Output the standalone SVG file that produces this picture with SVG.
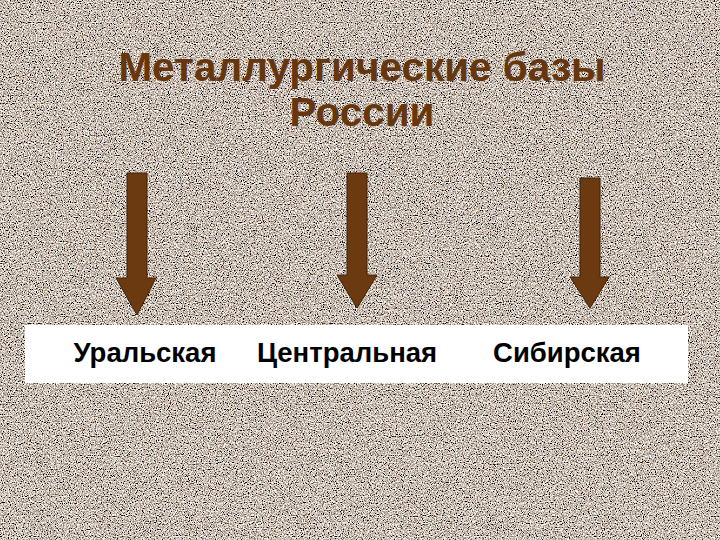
<svg xmlns="http://www.w3.org/2000/svg" width="720" height="540" viewBox="0 0 720 540">
  <defs>
    <filter id="grain" x="0" y="0" width="100%" height="100%" filterUnits="userSpaceOnUse">
      <feTurbulence type="fractalNoise" baseFrequency="0.85" numOctaves="2" seed="7" result="n"/>
      <feColorMatrix in="n" type="matrix" values="2.6 0 0 0 -0.72  2.45 0 0 0 -0.71  2.3 0 0 0 -0.69  0 0 0 0 1"/>
    </filter>
    <style>
      .title { font-family: "Liberation Sans", Arial, sans-serif; font-weight: bold; font-size: 40.5px; fill: #66360f; text-anchor: middle; }
      .label { font-family: "Liberation Sans", Arial, sans-serif; font-weight: bold; font-size: 27.5px; fill: #000; text-anchor: middle; }
      .arrow { fill: #6b3a10; stroke: #3e2208; stroke-width: 1; }
    </style>
  </defs>
  <rect x="0" y="0" width="720" height="540" fill="#928476"/>
  <rect x="0" y="0" width="720" height="540" filter="url(#grain)"/>

  <g id="title">
    <text class="title" x="362" y="81">Металлургические базы</text>
    <text class="title" x="362" y="126">России</text>
  </g>

  <g id="connectors">
    <path class="arrow" d="M127,173 H147 V278 H156 L137,315 L116,278 H127 Z"/>
    <path class="arrow" d="M347,173 H367 V275 H377 L357,308 L337,275 H347 Z"/>
    <path class="arrow" d="M580,178 H600 V277 H609 L590,308 L570,277 H580 Z"/>
  </g>

  <g id="box">
    <rect x="25" y="325" width="663" height="58" fill="#ffffff"/>
  </g>
  <g id="node-ural">
    <text class="label" x="145" y="362">Уральская</text>
  </g>
  <g id="node-central">
    <text class="label" x="347" y="362">Центральная</text>
  </g>
  <g id="node-siberian">
    <text class="label" x="567" y="362">Сибирская</text>
  </g>
</svg>
